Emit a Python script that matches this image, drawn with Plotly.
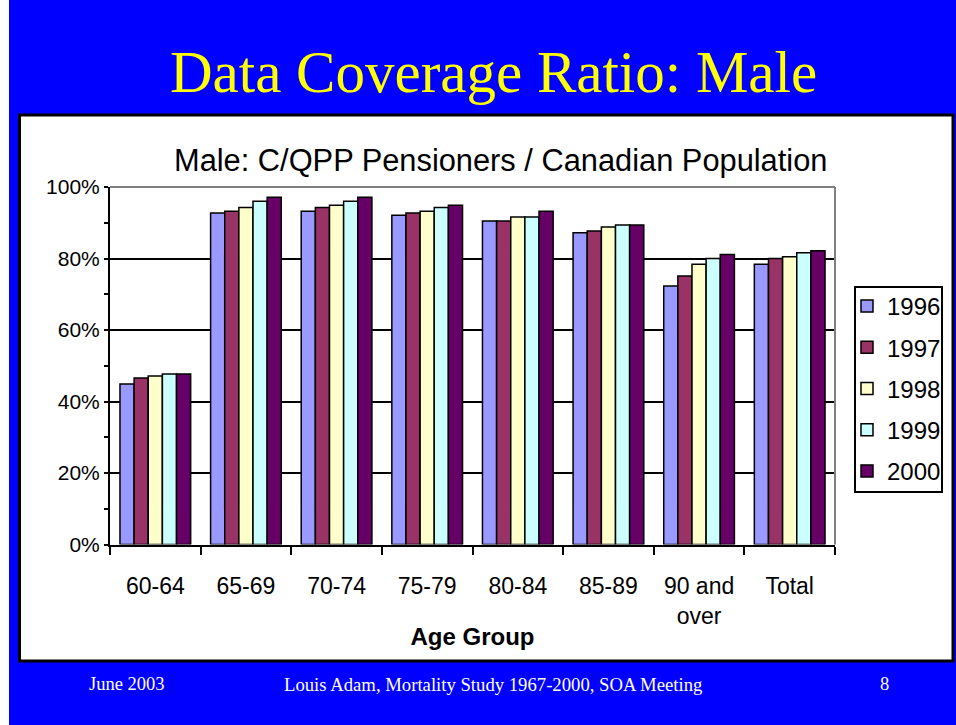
import plotly.graph_objects as go

categories = ["60-64", "65-69", "70-74", "75-79", "80-84", "85-89", "90 and<br>over", "Total"]
years = ["1996", "1997", "1998", "1999", "2000"]
v1996 = [0.449, 0.927, 0.932, 0.921, 0.905, 0.872, 0.723, 0.784]
v1997 = [0.466, 0.932, 0.943, 0.927, 0.905, 0.877, 0.751, 0.800]
v1998 = [0.471, 0.943, 0.949, 0.932, 0.916, 0.888, 0.784, 0.805]
v1999 = [0.477, 0.960, 0.960, 0.943, 0.916, 0.894, 0.800, 0.816]
v2000 = [0.477, 0.971, 0.971, 0.949, 0.932, 0.894, 0.811, 0.822]
series = [v1996, v1997, v1998, v1999, v2000]
colors = ["#9999FF", "#993366", "#FFFFCC", "#CCFFFF", "#660066"]

W, H = 956, 725
def px(x):
    return x / W
def py(y):
    return 1 - y / H

fig = go.Figure()
for i, (yr, vals) in enumerate(zip(years, series)):
    fig.add_trace(go.Bar(
        x=categories, y=vals, name=yr, legendgroup=yr,
        marker=dict(color=colors[i], line=dict(color="black", width=1.5)),
    ))

arial = "Liberation Sans, Arial, sans-serif"
times = "Liberation Serif, Times New Roman, serif"

fig.update_layout(
    width=W, height=H,
    margin=dict(l=0, r=0, t=0, b=0, autoexpand=False),
    paper_bgcolor="#0000FF",
    plot_bgcolor="white",
    barmode="group",
    bargap=0.22,
    bargroupgap=0,
    showlegend=True,
    legend=dict(
        x=px(847), y=py(284), xanchor="left", yanchor="top",
        bgcolor="rgba(0,0,0,0)", borderwidth=0,
        font=dict(family=arial, size=24, color="black"),
        tracegroupgap=7, itemwidth=30,
    ),
    xaxis=dict(
        domain=[px(110), px(835)], automargin=False,
        showline=True, linecolor="black", linewidth=2,
        ticks="outside", tickson="boundaries", ticklen=8, tickwidth=2, tickcolor="black",
        ticklabelstandoff=20,
        tickfont=dict(family=arial, size=23, color="black"),
        title=dict(text="<b>Age Group</b>", font=dict(family=arial, size=24, color="black"), standoff=0),
        showgrid=False,
    ),
    yaxis=dict(
        domain=[py(544.5), py(187)], automargin=False,
        range=[0, 1], dtick=0.2, tickformat=".0%",
        showline=True, linecolor="black", linewidth=2,
        ticks="outside", ticklen=4, tickwidth=2, tickcolor="black",
        minor=dict(dtick=0.1, ticks="outside", ticklen=4, tickwidth=2, tickcolor="black", showgrid=False),
        showgrid=True, gridcolor="black", gridwidth=1.5,
        tickfont=dict(family=arial, size=21, color="black"),
        zeroline=False,
    ),
    shapes=[
        dict(type="rect", xref="paper", yref="paper", x0=0, x1=px(9), y0=0, y1=1,
             fillcolor="white", line=dict(width=0), layer="below"),
        dict(type="rect", xref="paper", yref="paper", x0=px(19.5), x1=px(953), y0=py(661), y1=py(115),
             fillcolor="white", line=dict(color="black", width=3), layer="below"),
        dict(type="rect", xref="paper", yref="paper", x0=px(855), x1=px(942), y0=py(492), y1=py(287),
             fillcolor="white", line=dict(color="black", width=2), layer="below"),
        dict(type="line", xref="paper", yref="paper", x0=px(110), x1=px(835), y0=py(187), y1=py(187),
             line=dict(color="#808080", width=2)),
        dict(type="line", xref="paper", yref="paper", x0=px(835), x1=px(835), y0=py(187), y1=py(544.5),
             line=dict(color="#808080", width=2)),
    ],
    annotations=[
        dict(text="Data Coverage Ratio: Male", xref="paper", yref="paper", x=px(493), y=py(72),
             xanchor="center", yanchor="middle", showarrow=False,
             font=dict(family=times, size=59, color="#FFFF00")),
        dict(text="Male: C/QPP Pensioners / Canadian Population", xref="paper", yref="paper",
             x=px(500), y=py(160), xanchor="center", yanchor="middle", showarrow=False,
             font=dict(family=arial, size=30.8, color="black")),
        dict(text="June 2003", xref="paper", yref="paper", x=px(127), y=py(684),
             xanchor="center", yanchor="middle", showarrow=False,
             font=dict(family=times, size=18.5, color="white")),
        dict(text="Louis Adam, Mortality Study 1967-2000, SOA Meeting", xref="paper", yref="paper",
             x=px(493), y=py(684), xanchor="center", yanchor="middle", showarrow=False,
             font=dict(family=times, size=18.7, color="white")),
        dict(text="8", xref="paper", yref="paper", x=px(884), y=py(684),
             xanchor="center", yanchor="middle", showarrow=False,
             font=dict(family=times, size=18.5, color="white")),
    ],
)

fig.write_html("out.html")
